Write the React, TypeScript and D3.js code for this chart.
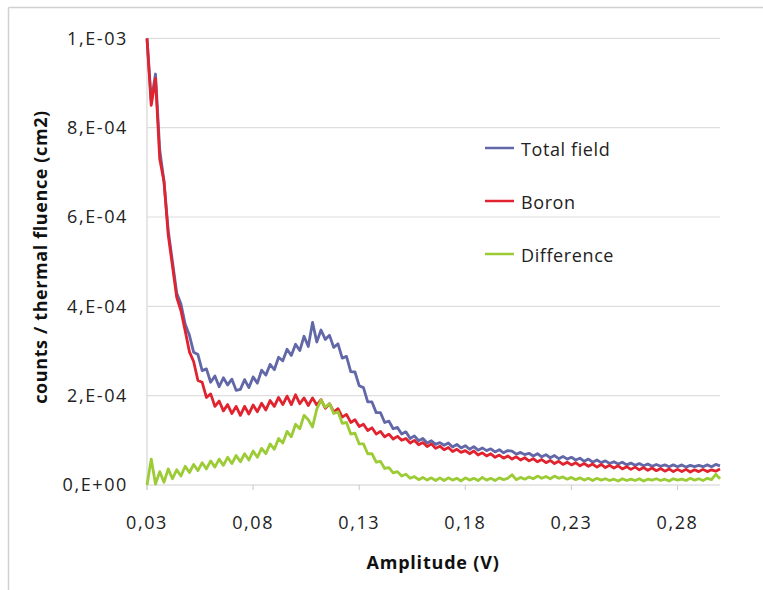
import React from 'react';
import * as d3 from 'd3';

// Amplitude (V) sample points
const amplitude = [
  0.030, 0.032, 0.034, 0.036, 0.038, 0.040, 0.042, 0.044, 0.046, 0.048,
  0.050, 0.052, 0.054, 0.056, 0.058, 0.060, 0.062, 0.064, 0.066, 0.068,
  0.070, 0.072, 0.074, 0.076, 0.078, 0.080, 0.082, 0.084, 0.086, 0.088,
  0.090, 0.092, 0.094, 0.096, 0.098, 0.100, 0.102, 0.104, 0.106, 0.108,
  0.110, 0.112, 0.114, 0.116, 0.118, 0.120, 0.122, 0.124, 0.126, 0.128,
  0.130, 0.132, 0.134, 0.136, 0.138, 0.140, 0.142, 0.144, 0.146, 0.148,
  0.150, 0.152, 0.154, 0.156, 0.158, 0.160, 0.162, 0.164, 0.166, 0.168,
  0.170, 0.172, 0.174, 0.176, 0.178, 0.180, 0.182, 0.184, 0.186, 0.188,
  0.190, 0.192, 0.194, 0.196, 0.198, 0.200, 0.202, 0.204, 0.206, 0.208,
  0.210, 0.212, 0.214, 0.216, 0.218, 0.220, 0.222, 0.224, 0.226, 0.228,
  0.230, 0.232, 0.234, 0.236, 0.238, 0.240, 0.242, 0.244, 0.246, 0.248,
  0.250, 0.252, 0.254, 0.256, 0.258, 0.260, 0.262, 0.264, 0.266, 0.268,
  0.270, 0.272, 0.274, 0.276, 0.278, 0.280, 0.282, 0.284, 0.286, 0.288,
  0.290, 0.292, 0.294, 0.296, 0.298, 0.300,
];

// counts / thermal fluence, in units of 1e-4 cm2
const totalField = [
  10.0, 8.6, 9.2, 7.5, 6.8, 5.7, 5.0, 4.3, 4.05, 3.6,
  3.35, 2.97, 2.92, 2.56, 2.60, 2.30, 2.44, 2.20, 2.40, 2.24,
  2.37, 2.12, 2.14, 2.36, 2.18, 2.42, 2.28, 2.57, 2.46, 2.70,
  2.58, 2.86, 2.78, 3.04, 2.90, 3.15, 3.01, 3.33, 3.10, 3.64,
  3.20, 3.47, 3.26, 3.35, 3.08, 3.16, 2.84, 2.88, 2.54, 2.53,
  2.22, 2.18, 1.86, 1.86, 1.62, 1.62, 1.40, 1.43, 1.26, 1.29,
  1.14, 1.19, 1.04, 1.10, 0.99, 1.04, 0.94, 0.99, 0.91, 0.95,
  0.89, 0.94, 0.85, 0.91, 0.83, 0.88, 0.80, 0.86, 0.78, 0.83,
  0.77, 0.81, 0.74, 0.79, 0.72, 0.77, 0.76, 0.69, 0.73, 0.68,
  0.71, 0.65, 0.70, 0.63, 0.68, 0.61, 0.66, 0.59, 0.64, 0.58,
  0.62, 0.56, 0.60, 0.53, 0.58, 0.51, 0.56, 0.50, 0.54, 0.48,
  0.52, 0.47, 0.51, 0.45, 0.49, 0.44, 0.48, 0.43, 0.47, 0.42,
  0.46, 0.42, 0.45, 0.41, 0.45, 0.41, 0.45, 0.40, 0.44, 0.41,
  0.44, 0.41, 0.45, 0.41, 0.46, 0.43,
];

const boron = [
  10.0, 8.5, 9.1, 7.3, 6.8, 5.6, 4.9, 4.2, 3.9, 3.45,
  2.98, 2.76, 2.34, 2.30, 1.96, 2.04, 1.76, 1.88, 1.66, 1.80,
  1.60, 1.76, 1.56, 1.76, 1.59, 1.79, 1.64, 1.83, 1.68, 1.89,
  1.76, 1.96, 1.80, 1.99, 1.80, 2.02, 1.82, 1.95, 1.78, 1.95,
  1.79, 1.91, 1.72, 1.82, 1.63, 1.71, 1.52, 1.58, 1.40, 1.46,
  1.31, 1.36, 1.22, 1.28, 1.14, 1.20, 1.08, 1.14, 1.03, 1.09,
  1.00, 1.04, 0.94, 1.00, 0.90, 0.95, 0.86, 0.92, 0.82, 0.87,
  0.79, 0.84, 0.75, 0.80, 0.73, 0.77, 0.70, 0.76, 0.67, 0.72,
  0.65, 0.70, 0.62, 0.67, 0.60, 0.65, 0.58, 0.63, 0.56, 0.61,
  0.54, 0.59, 0.52, 0.57, 0.50, 0.55, 0.48, 0.53, 0.46, 0.51,
  0.45, 0.50, 0.43, 0.48, 0.42, 0.47, 0.40, 0.46, 0.39, 0.44,
  0.38, 0.43, 0.36, 0.41, 0.35, 0.40, 0.34, 0.39, 0.33, 0.38,
  0.32, 0.37, 0.31, 0.36, 0.30, 0.35, 0.30, 0.35, 0.29, 0.34,
  0.30, 0.35, 0.30, 0.34, 0.31, 0.36,
];

const difference = [
  0.00, 0.58, 0.02, 0.30, 0.06, 0.36, 0.14, 0.34, 0.20, 0.42,
  0.28, 0.46, 0.32, 0.50, 0.36, 0.54, 0.40, 0.58, 0.44, 0.62,
  0.48, 0.66, 0.52, 0.70, 0.56, 0.76, 0.62, 0.82, 0.70, 0.92,
  0.80, 1.04, 0.94, 1.20, 1.08, 1.36, 1.26, 1.56, 1.46, 1.30,
  1.70, 1.90, 1.74, 1.82, 1.60, 1.64, 1.38, 1.40, 1.14, 1.16,
  0.92, 0.92, 0.70, 0.70, 0.51, 0.53, 0.37, 0.39, 0.27, 0.30,
  0.20, 0.24, 0.15, 0.19, 0.12, 0.17, 0.11, 0.16, 0.10, 0.16,
  0.10, 0.16, 0.11, 0.15, 0.09, 0.16, 0.11, 0.15, 0.10, 0.17,
  0.11, 0.15, 0.10, 0.16, 0.12, 0.15, 0.23, 0.12, 0.17, 0.13,
  0.18, 0.14, 0.20, 0.15, 0.19, 0.14, 0.20, 0.15, 0.18, 0.13,
  0.17, 0.12, 0.16, 0.11, 0.15, 0.10, 0.15, 0.11, 0.14, 0.10,
  0.13, 0.09, 0.14, 0.10, 0.13, 0.10, 0.14, 0.09, 0.13, 0.11,
  0.14, 0.10, 0.13, 0.09, 0.14, 0.11, 0.13, 0.10, 0.15, 0.11,
  0.14, 0.10, 0.15, 0.12, 0.24, 0.14,
];

const xTickValues = [0.03, 0.08, 0.13, 0.18, 0.23, 0.28];
const xTickLabels = ['0,03', '0,08', '0,13', '0,18', '0,23', '0,28'];
const yTickValues = [0, 2, 4, 6, 8, 10];
const yTickLabels = ['0,E+00', '2,E-04', '4,E-04', '6,E-04', '8,E-04', '1,E-03'];

const seriesNames = ['Total field', 'Boron', 'Difference'];
const seriesColors = ['#6267a8', '#e1222f', '#9bcb35'];
const seriesData = [totalField, boron, difference];

const W = 763;
const H = 590;
const FONT = '"Open Sans", "DejaVu Sans", sans-serif';

export default function App() {
  const x = d3.scaleLinear().domain([0.03, 0.3]).range([147, 720]);
  const y = d3.scaleLinear().domain([0, 10]).range([485, 38.3]);

  const line = d3
    .line<number>()
    .x((_, i) => x(amplitude[i]))
    .y((d) => y(d));

  const legendY = [150, 203, 256];

  return (
    <svg
      width={W}
      height={H}
      style={{ position: 'absolute', left: 0, top: 0, background: '#fff' }}
    >
      {/* outer frame */}
      <line x1={8.5} x2={W} y1={7.5} y2={7.5} stroke="#d0d0d0" strokeWidth={1.5} />
      <line x1={8.5} x2={8.5} y1={7.5} y2={H} stroke="#d0d0d0" strokeWidth={1.5} />

      {/* grid */}
      {yTickValues.map((v) => (
        <line
          key={'g' + v}
          x1={x(0.03)}
          x2={x(0.3)}
          y1={y(v)}
          y2={y(v)}
          stroke={v === 0 ? '#cfcfcf' : '#dedede'}
          strokeWidth={1.2}
        />
      ))}
      <line x1={x(0.03)} x2={x(0.03)} y1={y(10)} y2={y(0) + 5} stroke="#d6d6d6" strokeWidth={1.2} />
      {xTickValues.map((v) => (
        <line key={'t' + v} x1={x(v)} x2={x(v)} y1={y(0)} y2={y(0) + 5} stroke="#d0d0d0" strokeWidth={1.2} />
      ))}

      {/* y tick labels */}
      {yTickValues.map((v, i) => (
        <text
          key={'yl' + v}
          x={128}
          y={y(v)}
          dy="0.36em"
          textAnchor="end"
          fontFamily={FONT}
          fontSize={18}
          letterSpacing={1.6}
          fill="#222"
        >
          {yTickLabels[i]}
        </text>
      ))}

      {/* x tick labels */}
      {xTickValues.map((v, i) => (
        <text
          key={'xl' + v}
          x={x(v)}
          y={528.5}
          textAnchor="middle"
          fontFamily={FONT}
          fontSize={18}
          letterSpacing={1.6}
          fill="#222"
        >
          {xTickLabels[i]}
        </text>
      ))}

      {/* axis titles */}
      <text
        x={433}
        y={569}
        textAnchor="middle"
        fontFamily={FONT}
        fontSize={18}
        fontWeight="bold"
        letterSpacing={0.8}
        fill="#111"
      >
        Amplitude (V)
      </text>
      <text
        transform="translate(47,257) rotate(-90)"
        textAnchor="middle"
        fontFamily={FONT}
        fontSize={18}
        fontWeight="bold"
        letterSpacing={0.6}
        fill="#111"
      >
        counts / thermal fluence (cm2)
      </text>

      {/* series */}
      {seriesData.map((s, k) => (
        <path
          key={'s' + k}
          d={line(s) || ''}
          fill="none"
          stroke={seriesColors[k]}
          strokeWidth={2.8}
          strokeLinejoin="round"
        />
      ))}

      {/* legend */}
      {seriesNames.map((n, k) => (
        <g key={'lg' + k}>
          <line x1={485} x2={514} y1={legendY[k] - 2} y2={legendY[k] - 2} stroke={seriesColors[k]} strokeWidth={2.5} />
          <text
            x={521}
            y={legendY[k]}
            dy="0.36em"
            fontFamily={FONT}
            fontSize={18}
            letterSpacing={0.6}
            fill="#222"
          >
            {n}
          </text>
        </g>
      ))}
    </svg>
  );
}
